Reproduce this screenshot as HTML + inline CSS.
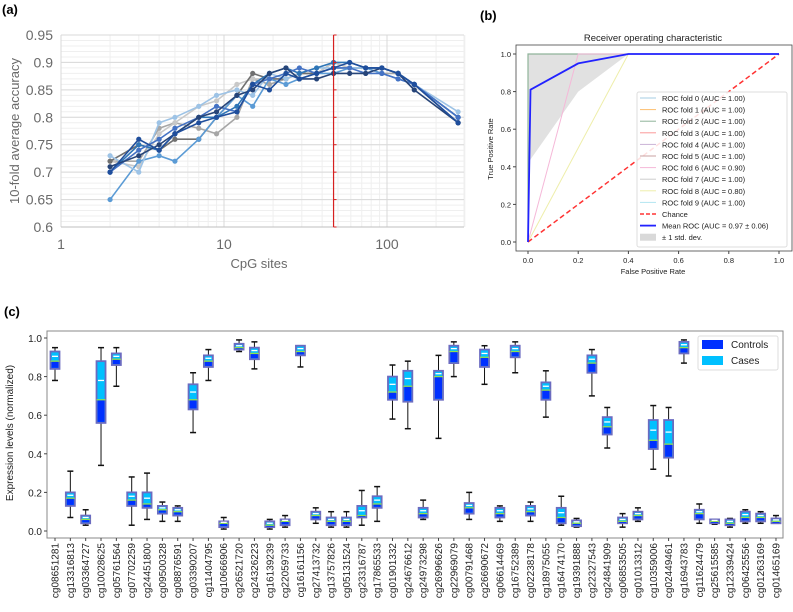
<!DOCTYPE html>
<html><head><meta charset="utf-8"><style>
body{margin:0;background:#fff;width:793px;height:612px;overflow:hidden;font-family:"Liberation Sans",sans-serif}
svg{position:absolute;left:0;top:0}
</style></head><body>
<svg id="chart" width="793" height="612" viewBox="0 0 793 612" xmlns="http://www.w3.org/2000/svg"></svg>
<script>
// ---------- Panel (a) data ----------
const aSites = [2,3,4,5,7,9,12,15,19,24,29,37,47,59,74,93,117,147,273];
const aS1 = [.70,.76,.74,.77,.79,.80,.81,.86,.85,.88,.87,.88,.89,.90,.89,.89,.88,.86,.79];
const aS2 = [.65,.72,.73,.72,.76,.80,.84,.82,.87,.86,.87,.88,.88,.89,.89,.88,.87,.86,.80];
const aS3 = [.72,.72,.78,.79,.78,.77,.80,.87,.86,.87,.88,.88,.90,.89,.89,.88,.88,.86,.80];
const aS4 = [.72,.75,.74,.76,.76,.80,.84,.88,.87,.87,.88,.88,.89,.89,.89,.89,.88,.86,.79];
const aS5 = [.70,.75,.74,.77,.80,.80,.82,.86,.88,.89,.88,.89,.90,.90,.89,.89,.88,.86,.80];
const aS6 = [.73,.70,.79,.80,.82,.84,.85,.84,.88,.87,.88,.89,.89,.89,.89,.89,.88,.86,.81];
const aS7 = [.72,.71,.77,.79,.82,.83,.86,.87,.87,.87,.88,.88,.90,.89,.89,.89,.88,.86,.80];
const aS8 = [.71,.73,.75,.77,.80,.81,.84,.85,.88,.89,.87,.87,.88,.88,.88,.89,.88,.85,.79];
const aS9 = [.70,.74,.76,.78,.80,.82,.81,.86,.87,.88,.89,.88,.89,.89,.88,.88,.87,.86,.80];
const aYTicks = [0.6,0.65,0.7,0.75,0.8,0.85,0.9,0.95];
const aXTicks = [1,10,100];
const aRedLine = 47;
// ---------- Panel (b) data ----------
const bMeanX = [0,0.01,0.2,0.4,1];
const bMeanY = [0,0.81,0.95,1,1];
const bStdLoX = [0,0.2,0.4,1];
const bStdLoY = [0.42,0.8,1,1];
const bFold6X = [0,0.2,1]; const bFold6Y=[0,1,1];
const bFold8X = [0,0.4,1]; const bFold8Y=[0,1,1];
const bFoldLabels = ["ROC fold 0 (AUC = 1.00)","ROC fold 1 (AUC = 1.00)","ROC fold 2 (AUC = 1.00)","ROC fold 3 (AUC = 1.00)","ROC fold 4 (AUC = 1.00)","ROC fold 5 (AUC = 1.00)","ROC fold 6 (AUC = 0.90)","ROC fold 7 (AUC = 1.00)","ROC fold 8 (AUC = 0.80)","ROC fold 9 (AUC = 1.00)"];
const bTicks = [0,0.2,0.4,0.6,0.8,1.0];
// ---------- Panel (c) data ----------
const cNames = ["cg08651281","cg13316813","cg03364727","cg10028625","cg05761564","cg07702259","cg24451800","cg09500328","cg08876591","cg03390207","cg11404795","cg10666906","cg26521720","cg24326223","cg16139239","cg22059733","cg16161156","cg27413732","cg13757826","cg05131524","cg23316787","cg17865533","cg01901332","cg24676612","cg24973298","cg26996626","cg22969079","cg00791468","cg26690672","cg06614469","cg16752389","cg02238178","cg18975055","cg16474170","cg19391888","cg22327543","cg24841909","cg06853505","cg01013312","cg10359006","cg02449461","cg16943783","cg11624479","cg25615585","cg12339424","cg06425556","cg01263169","cg01465169"];
const cLo  = [.78,.07,.03,.34,.75,.03,.06,.05,.05,.51,.78,.01,.93,.84,.01,.02,.85,.04,.02,.02,.03,.05,.58,.53,.06,.48,.80,.06,.76,.05,.82,.05,.59,.03,.02,.70,.43,.02,.05,.32,.285,.87,.04,.035,.02,.04,.04,.04];
const cQ1  = [.84,.13,.04,.56,.86,.13,.12,.09,.08,.63,.85,.02,.94,.89,.02,.03,.91,.06,.03,.03,.07,.12,.68,.67,.07,.68,.87,.09,.85,.07,.90,.08,.68,.04,.025,.82,.50,.04,.06,.425,.38,.92,.06,.04,.03,.05,.05,.04];
const cMed = [.88,.17,.06,.68,.89,.16,.14,.11,.10,.68,.88,.04,.95,.92,.03,.05,.93,.08,.05,.05,.08,.14,.72,.75,.09,.80,.93,.12,.90,.09,.93,.10,.73,.07,.04,.87,.54,.05,.08,.47,.45,.95,.09,.05,.04,.07,.07,.05];
const cQ3  = [.93,.20,.08,.88,.92,.20,.20,.13,.12,.76,.91,.05,.97,.95,.05,.06,.96,.10,.07,.07,.13,.18,.80,.83,.12,.83,.96,.145,.94,.12,.96,.13,.77,.12,.055,.91,.59,.07,.10,.575,.575,.98,.11,.06,.06,.10,.09,.065];
const cHi  = [.95,.31,.11,.95,.95,.28,.30,.15,.13,.82,.94,.07,.99,.98,.06,.08,.96,.12,.10,.10,.21,.23,.86,.88,.16,.91,.98,.20,.96,.13,.98,.15,.83,.18,.065,.94,.64,.09,.12,.65,.64,.99,.14,.06,.065,.11,.10,.08];
const cTicks = [0,0.2,0.4,0.6,0.8,1.0];

const svg=document.getElementById('chart');
const NS='http://www.w3.org/2000/svg';
function mk(tag,attrs,parent,txt){const e=document.createElementNS(NS,tag);for(const k in attrs)e.setAttribute(k,attrs[k]);if(txt!==undefined)e.textContent=txt;(parent||svg).appendChild(e);return e;}
function grp(name){const g=mk('g',{});return g;}
function pts(xs,ys,fx,fy){return xs.map((x,i)=>fx(x)+','+fy(ys[i])).join(' ');}

// ===== Panel (a) =====
const ax=v=>61+Math.log10(v)*163;
const ay=v=>35+(0.95-v)/0.05*27.43;
let t=mk('text',{x:2,y:14,'font-size':13,'font-weight':'bold'},svg,'(a)');


const ga=grp('panel-a-accuracy-chart');
const gg=grp('panel-a-grid');ga.appendChild(gg);
for(let v=0.6;v<=0.9501;v+=0.01){mk('line',{x1:61,x2:464,y1:ay(v),y2:ay(v),stroke:'#efefef','stroke-width':1},gg);}
for(const d of [1,10,100]){for(let k=1;k<10;k++){const v=d*k;if(v>300)break;mk('line',{x1:ax(v),x2:ax(v),y1:ay(0.95),y2:ay(0.6),stroke:k==1?'#d9d9d9':'#efefef','stroke-width':1},gg);}}
mk('line',{x1:464,x2:464,y1:ay(0.95),y2:ay(0.6),stroke:'#efefef'},gg);
for(const v of aYTicks){mk('line',{x1:61,x2:464,y1:ay(v),y2:ay(v),stroke:'#d9d9d9'},gg);
 const l=mk('text',{x:53,y:ay(v)+5,'font-size':14,fill:'#6a6a6a','text-anchor':'end'},ga,String(v));
 }
mk('line',{x1:61,x2:464,y1:ay(0.6),y2:ay(0.6),stroke:'#bfbfbf'},ga);
for(const v of aXTicks){const l=mk('text',{x:ax(v),y:249,'font-size':14,fill:'#6a6a6a','text-anchor':'middle'},ga,String(v));
 }
t=mk('text',{x:259,y:268,'font-size':13,fill:'#6a6a6a','text-anchor':'middle'},ga,'CpG sites');

t=mk('text',{x:0,y:0,'font-size':13,fill:'#6a6a6a','text-anchor':'middle',transform:'translate(19,131) rotate(-90)'},ga,'10-fold average accuracy');

const aSeries=[[aS3,'#a6a6a6'],[aS7,'#c8c8c8'],[aS4,'#707070'],[aS2,'#5b9bd5'],[aS6,'#9dc3e6'],[aS5,'#2e75b6'],[aS9,'#4472c4'],[aS8,'#264478'],[aS1,'#1f4e9c']];
aSeries.forEach((s,i)=>{const g=grp('a-series-'+(i+1));ga.appendChild(g);
 mk('polyline',{points:pts(aSites,s[0],ax,ay),fill:'none',stroke:s[1],'stroke-width':1.6},g);
 aSites.forEach((x,j)=>{const c=mk('circle',{cx:ax(x),cy:ay(s[0][j]),r:2.6,fill:s[1]},g);});});
t=mk('line',{x1:ax(aRedLine),x2:ax(aRedLine),y1:ay(0.95),y2:ay(0.6),stroke:'#d62020','stroke-width':1.2},ga);

for(const v of aYTicks){mk('line',{x1:ax(aRedLine),x2:ax(aRedLine)+3,y1:ay(v),y2:ay(v),stroke:'#d62020'},ga);}

// ===== Panel (b) =====
const bx=v=>528+v*251, by=v=>242-v*188;
t=mk('text',{x:480,y:20,'font-size':13,'font-weight':'bold'},svg,'(b)');

const gb=grp('panel-b-roc-chart');
t=mk('text',{x:653,y:41,'font-size':9.5,fill:'#222','text-anchor':'middle'},gb,'Receiver operating characteristic');

const up=bStdLoX.map(x=>bx(x)+','+by(1)).reverse().join(' ');
t=mk('polygon',{points:pts(bStdLoX,bStdLoY,bx,by)+' '+up,fill:'#d9d9d9','fill-opacity':0.8},gb);

mk('polyline',{points:pts([0,0,1],[0,1,1],bx,by),fill:'none',stroke:'#8fb39a','stroke-width':1.2},gb);
mk('polyline',{points:pts(bFold6X,bFold6Y,bx,by),fill:'none',stroke:'#f5b8d8','stroke-width':1},gb);
mk('polyline',{points:pts(bFold8X,bFold8Y,bx,by),fill:'none',stroke:'#eeeeaa','stroke-width':1},gb);
t=mk('line',{x1:bx(0),y1:by(0),x2:bx(1),y2:by(1),stroke:'#ff3333','stroke-width':1.5,'stroke-dasharray':'5,3'},gb);

t=mk('polyline',{points:pts(bMeanX,bMeanY,bx,by),fill:'none',stroke:'#2222ff','stroke-width':1.8},gb);

mk('rect',{x:516,y:45,width:276,height:206,fill:'none',stroke:'#444','stroke-width':0.8},gb);
for(const v of bTicks){
 mk('line',{x1:bx(v),x2:bx(v),y1:251,y2:254,stroke:'#444'},gb);
 mk('line',{x1:513,x2:516,y1:by(v),y2:by(v),stroke:'#444'},gb);
 let l=mk('text',{x:bx(v),y:263,'font-size':7.5,fill:'#222','text-anchor':'middle'},gb,v.toFixed(1));
 l=mk('text',{x:511,y:by(v)+3,'font-size':7.5,fill:'#222','text-anchor':'end'},gb,v.toFixed(1));}
t=mk('text',{x:653,y:274,'font-size':7.5,fill:'#222','text-anchor':'middle'},gb,'False Positive Rate');

t=mk('text',{x:0,y:0,'font-size':7.5,fill:'#222','text-anchor':'middle',transform:'translate(493,149) rotate(-90)'},gb,'True Positive Rate');

const gl=grp('b-legend');gb.appendChild(gl);
mk('rect',{x:637,y:92,width:150,height:155,fill:'#fff','fill-opacity':0.85,stroke:'#ddd',rx:2},gl);
const fc=['#a6cee3','#fdbf6f','#8fb39a','#fb9a99','#cab2d6','#c9a0a0','#f5b8d8','#cccccc','#eeeeaa','#b3e5f0'];
bFoldLabels.forEach((s,i)=>{const y=98+i*11.6;mk('line',{x1:640,x2:656,y1:y,y2:y,stroke:fc[i]},gl);
 const l=mk('text',{x:662,y:y+3,'font-size':7.5,fill:'#222'},gl,s);});
let ly=98+10*11.6;
mk('line',{x1:640,x2:656,y1:ly,y2:ly,stroke:'#ff3333','stroke-width':1.5,'stroke-dasharray':'4,2'},gl);
mk('text',{x:662,y:ly+3,'font-size':7.5,fill:'#222'},gl,'Chance');
ly+=11.6;mk('line',{x1:640,x2:656,y1:ly,y2:ly,stroke:'#2222ff','stroke-width':1.8},gl);
mk('text',{x:662,y:ly+3,'font-size':7.5,fill:'#222'},gl,'Mean ROC (AUC = 0.97 ± 0.06)');
ly+=11.6;mk('rect',{x:640,y:ly-3.5,width:16,height:7,fill:'#d9d9d9'},gl);
mk('text',{x:662,y:ly+3,'font-size':7.5,fill:'#222'},gl,'± 1 std. dev.');

// ===== Panel (c) =====
const cx=i=>55+i*15.34, cy=v=>531-v*193;
t=mk('text',{x:4,y:316,'font-size':13,'font-weight':'bold'},svg,'(c)');

const gc=grp('panel-c-boxplot');
mk('rect',{x:47,y:331,width:736,height:207,fill:'#fff',stroke:'#888','stroke-width':1},gc);
for(const v of cTicks){mk('line',{x1:44,x2:47,y1:cy(v),y2:cy(v),stroke:'#444'},gc);
 const l=mk('text',{x:42,y:cy(v)+4,'font-size':10,fill:'#222','text-anchor':'end'},gc,v.toFixed(1));}
t=mk('text',{x:0,y:0,'font-size':10,fill:'#222','text-anchor':'middle',transform:'translate(13,433) rotate(-90)'},gc,'Expression levels (normalized)');

cNames.forEach((n,i)=>{const x=cx(i);const g=grp('box-'+n);gc.appendChild(g);
 mk('line',{x1:x,x2:x,y1:cy(cHi[i]),y2:cy(cLo[i]),stroke:'#111','stroke-width':1},g);
 mk('line',{x1:x-3,x2:x+3,y1:cy(cHi[i]),y2:cy(cHi[i]),stroke:'#111','stroke-width':1.5},g);
 mk('line',{x1:x-3,x2:x+3,y1:cy(cLo[i]),y2:cy(cLo[i]),stroke:'#111','stroke-width':1.5},g);
 const w=9;
 mk('rect',{x:x-w/2,y:cy(cQ3[i]),width:w,height:cy(cQ1[i])-cy(cQ3[i]),fill:'#00c0ff',stroke:'#6b6bc0','stroke-width':1.8},g);
 const bh=Math.max(1.5,(cy(cQ1[i])-cy(cMed[i]))-1);
 mk('rect',{x:x-w/2+1,y:cy(cMed[i]),width:w-2,height:bh,fill:'#0030ff'},g);
 mk('line',{x1:x-w/2,x2:x+w/2,y1:cy(cMed[i]),y2:cy(cMed[i]),stroke:'#90e050','stroke-width':1.3},g);
 const cm=(cMed[i]+cQ3[i])/2;
 mk('line',{x1:x-w/2+1.5,x2:x+w/2-1.5,y1:cy(cm),y2:cy(cm),stroke:'#fff','stroke-width':1.3},g);
 mk('line',{x1:x,x2:x,y1:538,y2:541,stroke:'#444'},gc);
 const l=mk('text',{x:0,y:0,'font-size':10,fill:'#222','text-anchor':'end',transform:`translate(${x+3.5},543) rotate(-90)`},gc,n);
 });
const gcl=grp('c-legend');gc.appendChild(gcl);
mk('rect',{x:698,y:336,width:80,height:34,fill:'#fff',stroke:'#ddd',rx:2},gcl);
mk('rect',{x:702,y:340,width:21,height:9,fill:'#0030ff'},gcl);
mk('text',{x:731,y:348,'font-size':10,fill:'#222'},gcl,'Controls');
mk('rect',{x:702,y:356,width:21,height:9,fill:'#00c0ff'},gcl);
mk('text',{x:731,y:364,'font-size':10,fill:'#222'},gcl,'Cases');
</script>
</body></html>
